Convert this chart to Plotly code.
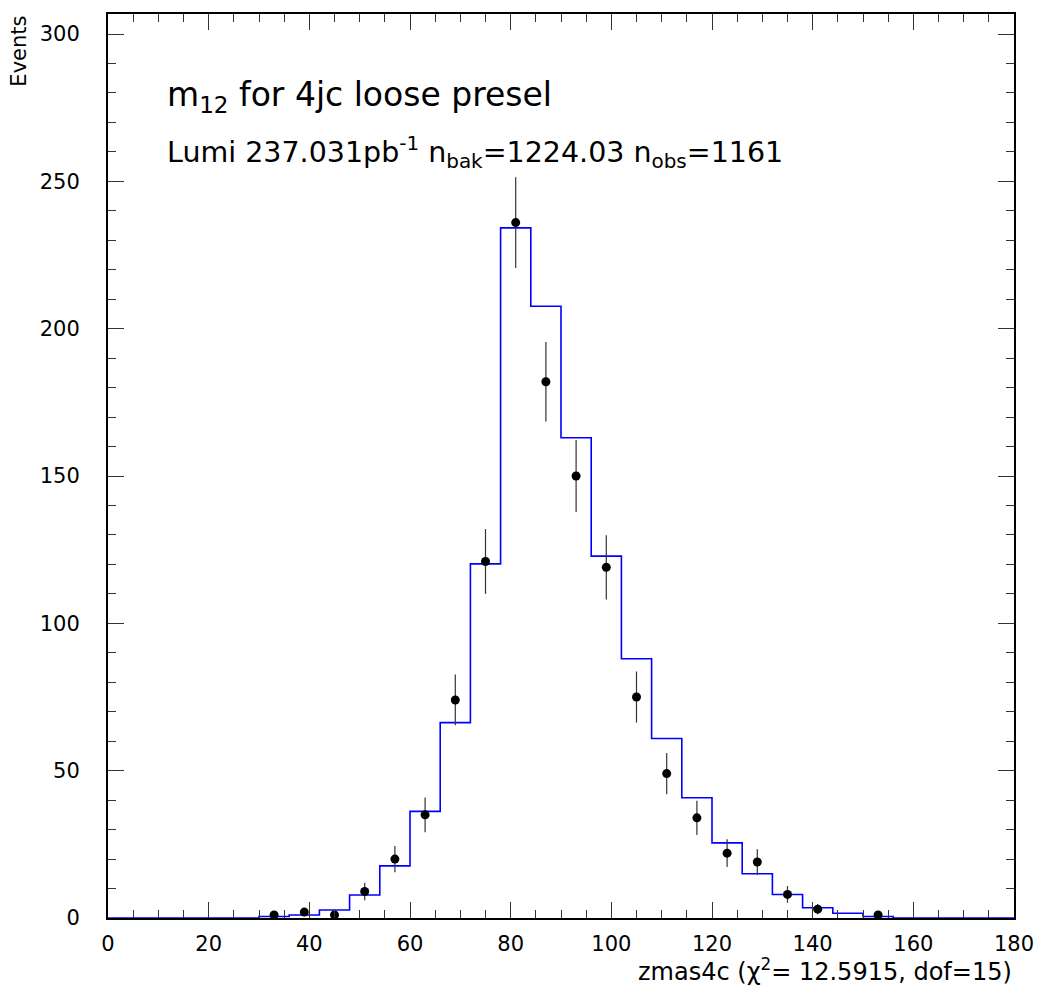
import numpy as np
import plotly.graph_objects as go

# Background expectation histogram: 30 bins of width 6 GeV over 0-180
bin_edges = np.arange(0, 181, 6)
bkg_counts = [0, 0, 0, 0, 0,
              0.5, 1.0, 2.7, 7.8, 17.7, 36.2, 66.3, 120.2, 234.2, 207.6,
              163.0, 122.8, 88.0, 60.9, 40.8, 25.5, 15.0, 8.0, 3.5, 1.6,
              0.5, 0, 0, 0, 0]

# Observed data (bin centres and event counts)
data_x = [33, 39, 45, 51, 57, 63, 69, 75, 81, 87, 93, 99, 105, 111, 117,
          123, 129, 135, 141, 153]
data_n = [1, 2, 1, 9, 20, 35, 74, 121, 236, 182, 150, 119, 75, 49, 34,
          22, 19, 8, 3, 1]

x_ticks = [0, 20, 40, 60, 80, 100, 120, 140, 160, 180]
y_ticks = [0, 50, 100, 150, 200, 250, 300]

FONT = "DejaVu Sans"

step_y = list(bkg_counts) + [bkg_counts[-1]]
data_err = np.sqrt(np.array(data_n, dtype=float))

fig = go.Figure()

fig.add_trace(go.Scatter(
    x=bin_edges, y=step_y, mode="lines",
    line=dict(color="#0000ff", width=1.6, shape="hv"),
    hoverinfo="skip", showlegend=False,
))

fig.add_trace(go.Scatter(
    x=data_x, y=data_n, mode="markers",
    marker=dict(color="black", size=9, symbol="circle"),
    error_y=dict(type="data", array=data_err, visible=True,
                 color="#333333", thickness=1.2, width=0),
    showlegend=False,
))

axis_common = dict(
    showline=True, linecolor="black", linewidth=2, mirror="ticks",
    ticks="inside", ticklen=16, tickwidth=1.2, tickcolor="#333333",
    showgrid=False, zeroline=False,
    tickfont=dict(family=FONT, size=21, color="black"),
)

fig.update_xaxes(
    range=[0, 180], tickvals=x_ticks, ticktext=[str(v) for v in x_ticks],
    minor=dict(ticks="inside", ticklen=8, dtick=5, tickwidth=1.2,
               tickcolor="#333333", showgrid=False),
    ticklabelstandoff=6,
    **axis_common,
)
fig.update_yaxes(
    range=[0, 306.8], tickvals=y_ticks, ticktext=[str(v) for v in y_ticks],
    minor=dict(ticks="inside", ticklen=8, dtick=10, tickwidth=1.2,
               tickcolor="#333333", showgrid=False),
    ticklabelstandoff=22,
    **axis_common,
)

annotations = [
    dict(text="m<sub>12</sub> for 4jc loose presel",
         x=0.063, y=0.909, xref="paper", yref="paper",
         xanchor="left", yanchor="middle", showarrow=False,
         font=dict(family=FONT, size=33, color="black")),
    dict(text="Lumi 237.031pb<sup>-1</sup> n<sub>bak</sub>=1224.03 "
              "n<sub>obs</sub>=1161",
         x=0.063, y=0.847, xref="paper", yref="paper",
         xanchor="left", yanchor="middle", showarrow=False,
         font=dict(family=FONT, size=28.5, color="black")),
    dict(text="Events", textangle=-90,
         x=-0.098, y=0.9586, xref="paper", yref="paper",
         xanchor="center", yanchor="middle", showarrow=False,
         font=dict(family=FONT, size=21, color="black")),
    dict(text="zmas4c (χ<sup>2</sup>= 12.5915, dof=15)",
         x=1.0, y=-0.057, xref="paper", yref="paper",
         xanchor="right", yanchor="middle", showarrow=False,
         font=dict(family=FONT, size=24, color="black")),
]

fig.update_layout(
    width=1046, height=992,
    margin=dict(l=108, r=30, t=12, b=74, pad=0),
    paper_bgcolor="white", plot_bgcolor="white",
    annotations=annotations,
    showlegend=False,
)

fig.write_html("out.html")
